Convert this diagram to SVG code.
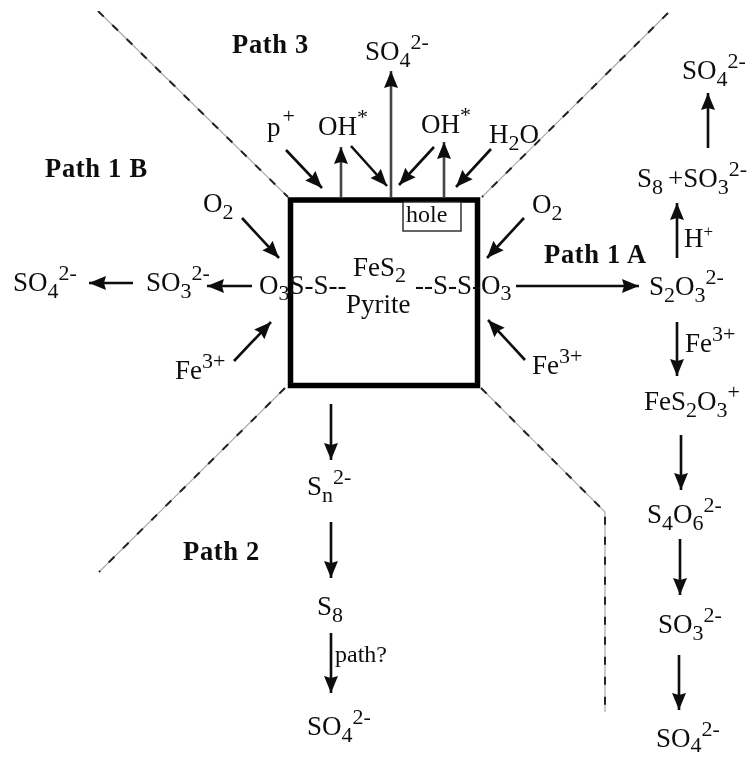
<svg xmlns="http://www.w3.org/2000/svg" width="756" height="757" viewBox="0 0 756 757">
<style>
text{font-family:"Liberation Serif","Times New Roman",serif;font-size:27px;fill:#111}
.b{font-weight:bold;font-size:26.5px;letter-spacing:.7px}
.s{font-size:22px}
.u{font-size:22px}
.a{fill:none;stroke:#111;stroke-width:2.6;marker-end:url(#h)}
.g{stroke:#444}
.d{fill:none;stroke:#aaa;stroke-width:1.2}
.e{fill:none;stroke:#222;stroke-width:2;stroke-dasharray:8 12}
</style>
<defs>
<marker id="h" markerUnits="userSpaceOnUse" markerWidth="20" markerHeight="18" refX="17" refY="8" orient="auto"><path d="M0,1L17,8L0,15L2,8Z" fill="#111"/></marker>
<filter id="f" x="0" y="0" width="1" height="1" filterUnits="objectBoundingBox"><feGaussianBlur stdDeviation="0.55"/></filter>
</defs>
<rect width="756" height="757" fill="#fff"/>
<g filter="url(#f)">
<g id="connectors">
<path class="d" d="M98,11L288,197M668,13L482,197M285,388L99,572M481,388L605,512V712"/>
<path class="e" d="M98,11L288,197M668,13L482,197M285,388L99,572M481,388L605,512V712"/>
<path class="a" d="M286,150L322,188"/>
<path class="a g" d="M341,197V147"/>
<path class="a" d="M351,146L387,186"/>
<path class="a g" d="M391,197V71"/>
<path class="a" d="M434,147L399,185"/>
<path class="a g" d="M444,197V142"/>
<path class="a" d="M491,149L456,187"/>
<path class="a" d="M242,218L279,258"/>
<path class="a" d="M234,361L271,322"/>
<path class="a" d="M252,286H207"/>
<path class="a" d="M133,283H89"/>
<path class="a" d="M524,218L487,258"/>
<path class="a" d="M525,360L488,320"/>
<path class="a" d="M516,286H639"/>
<path class="a" d="M677,258V203"/>
<path class="a" d="M708,148V93"/>
<path class="a" d="M677,322V376"/>
<path class="a" d="M681,435V490"/>
<path class="a" d="M680,539V595"/>
<path class="a" d="M679,655V710"/>
<path class="a" d="M331,404V460"/>
<path class="a" d="M331,522V578"/>
<path class="a" d="M331,633V693"/>
</g>
<g id="pyrite">
<rect x="290.500" y="200" width="187" height="185.500" fill="none" stroke="#000" stroke-width="5.500"/>
<text x="353" y="276">FeS<tspan class="s" dy="6">2</tspan></text>
<text x="346" y="313">Pyrite</text>
</g>
<g id="hole"><rect x="403" y="202" width="58" height="29" fill="#fff" stroke="#222" stroke-width="1.400"/><text x="406" y="222" style="font-size:24px">hole</text></g>
<g id="path3"><text class="b" x="232" y="53">Path 3</text></g>
<g id="path1b"><text class="b" x="45" y="177">Path 1 B</text></g>
<g id="path1a"><text class="b" x="544" y="263">Path 1 A</text></g>
<g id="path2"><text class="b" x="183" y="560">Path 2</text></g>
<g id="so4-top"><text x="365" y="60">SO<tspan class="s" dy="7">4</tspan><tspan class="u" dy="-18">2-</tspan></text></g>
<g id="p-plus"><text x="267" y="136">p<tspan class="u" dy="-13" dx="2">+</tspan></text></g>
<g id="oh-1"><text x="318" y="135">OH<tspan class="u" dy="-11">*</tspan></text></g>
<g id="oh-2"><text x="421" y="133">OH<tspan class="u" dy="-11">*</tspan></text></g>
<g id="h2o"><text x="489" y="143">H<tspan class="s" dy="7">2</tspan><tspan dy="-7">O</tspan></text></g>
<g id="o2-left"><text x="203" y="212">O<tspan class="s" dy="7">2</tspan></text></g>
<g id="o2-right"><text x="532" y="213">O<tspan class="s" dy="7">2</tspan></text></g>
<g id="fe-left"><text x="175" y="379">Fe<tspan class="u" dy="-11">3+</tspan></text></g>
<g id="fe-right"><text x="532" y="374">Fe<tspan class="u" dy="-11">3+</tspan></text></g>
<g id="so4-left"><text x="13" y="291">SO<tspan class="s" dy="7">4</tspan><tspan class="u" dy="-18">2-</tspan></text></g>
<g id="so3-left"><text x="146" y="291">SO<tspan class="s" dy="7">3</tspan><tspan class="u" dy="-18">2-</tspan></text></g>
<g id="o3-ss-left"><text x="259" y="294">O<tspan class="s" dy="6">3</tspan><tspan dy="-6">S-S--</tspan></text></g>
<g id="ss-o3-right"><text x="415" y="294">--S-S-O<tspan class="s" dy="6">3</tspan></text></g>
<g id="s2o3"><text x="649" y="295">S<tspan class="s" dy="7">2</tspan><tspan dy="-7">O</tspan><tspan class="s" dy="7">3</tspan><tspan class="u" dy="-18">2-</tspan></text></g>
<g id="h-plus"><text x="684" y="247">H<tspan class="s" dy="-10" style="font-size:17px">+</tspan></text></g>
<g id="s8-so3"><text x="637" y="187">S<tspan class="s" dy="7">8</tspan><tspan dy="-7" dx="5">+SO</tspan><tspan class="s" dy="7">3</tspan><tspan class="u" dy="-18">2-</tspan></text></g>
<g id="so4-right"><text x="682" y="79">SO<tspan class="s" dy="7">4</tspan><tspan class="u" dy="-18">2-</tspan></text></g>
<g id="fe-col"><text x="685" y="352">Fe<tspan class="u" dy="-11">3+</tspan></text></g>
<g id="fes2o3"><text x="644" y="410">FeS<tspan class="s" dy="7">2</tspan><tspan dy="-7">O</tspan><tspan class="s" dy="7">3</tspan><tspan class="u" dy="-18">+</tspan></text></g>
<g id="s4o6"><text x="647" y="523">S<tspan class="s" dy="7">4</tspan><tspan dy="-7">O</tspan><tspan class="s" dy="7">6</tspan><tspan class="u" dy="-18">2-</tspan></text></g>
<g id="so3-col"><text x="658" y="633">SO<tspan class="s" dy="7">3</tspan><tspan class="u" dy="-18">2-</tspan></text></g>
<g id="so4-col"><text x="656" y="747">SO<tspan class="s" dy="5">4</tspan><tspan class="u" dy="-16">2-</tspan></text></g>
<g id="sn"><text x="307" y="495">S<tspan class="s" dy="7">n</tspan><tspan class="u" dy="-18">2-</tspan></text></g>
<g id="s8"><text x="317" y="615">S<tspan class="s" dy="7">8</tspan></text></g>
<g id="path-q"><text x="335" y="662" style="font-size:24px">path?</text></g>
<g id="so4-bottom"><text x="307" y="735">SO<tspan class="s" dy="7">4</tspan><tspan class="u" dy="-18">2-</tspan></text></g>
</g>
</svg>
